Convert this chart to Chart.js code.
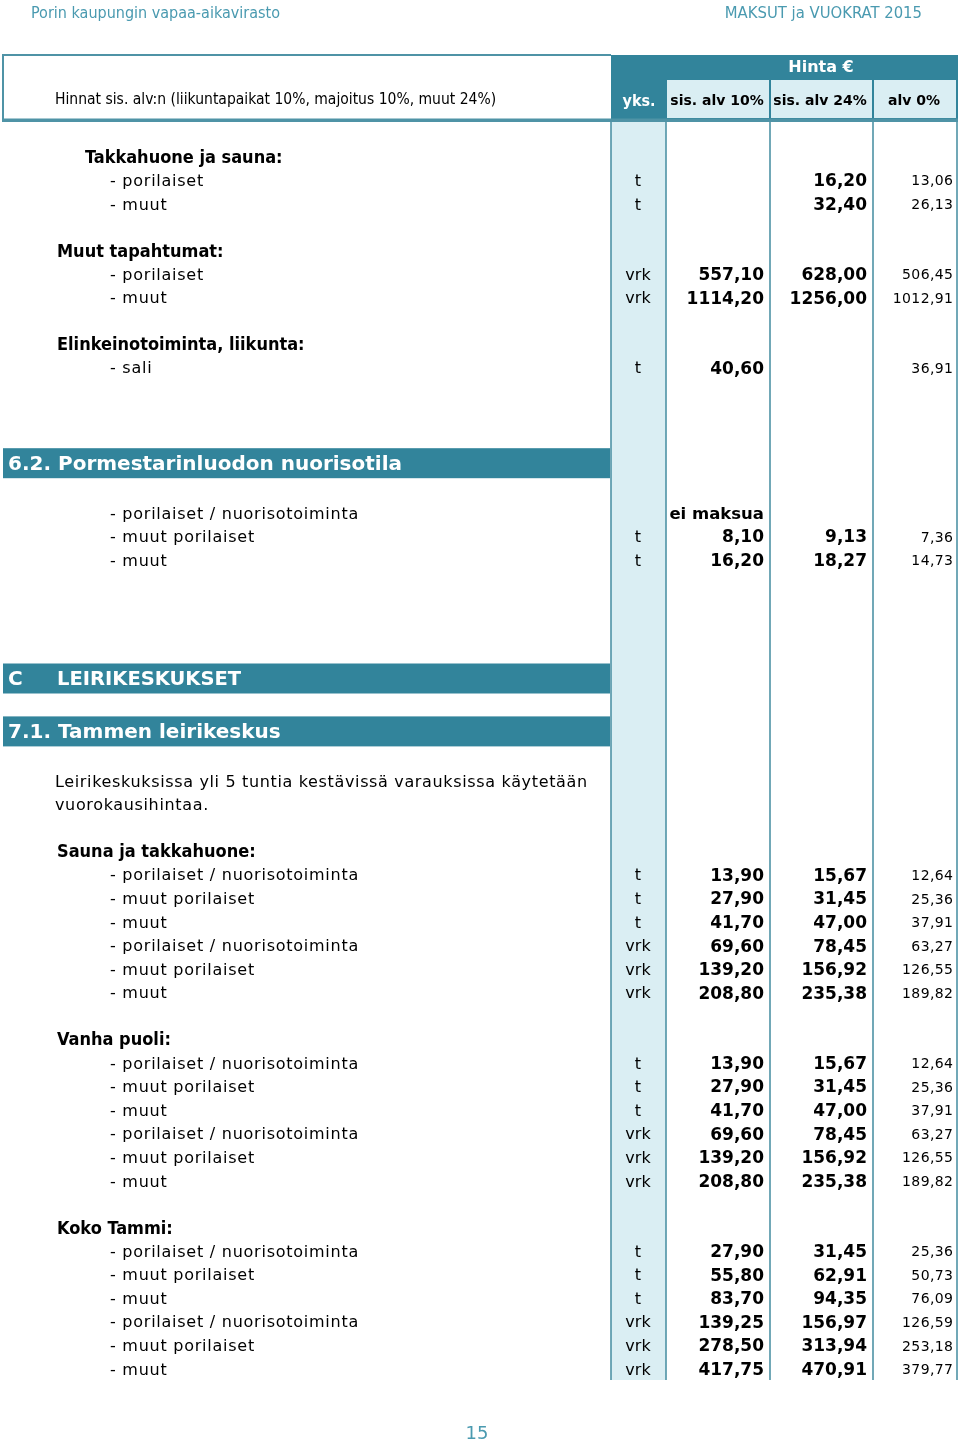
<!DOCTYPE html>
<html>
<head>
<meta charset="utf-8">
<title>Maksut ja vuokrat 2015</title>
<script src="https://cdn.jsdelivr.net/npm/chart.js@4.4.1/dist/chart.umd.min.js"></script>
<style>
  html, body { margin: 0; padding: 0; background: #ffffff; }
  canvas { display: block; }
</style>
</head>
<body>
<canvas id="price-table" width="960" height="1447"></canvas>
<script>
// Page texts
const pageTitleLeft = 'Porin kaupungin vapaa-aikavirasto';
const pageTitleRight = 'MAKSUT ja VUOKRAT 2015';
const pageNumber = '15';
const headerNote = 'Hinnat sis. alv:n (liikuntapaikat 10%, majoitus 10%, muut 24%)';
const priceTitle = 'Hinta €';
const columnTitles = ['yks.', 'sis. alv 10%', 'sis. alv 24%', 'alv 0%'];

// Rows, top to bottom
const rowKinds = [
  'blank', 'subgroup', 'item', 'item', 'blank',
  'group', 'item', 'item', 'blank',
  'group', 'item', 'blank', 'blank', 'blank',
  'band', 'blank', 'item', 'item', 'item',
  'blank', 'blank', 'blank', 'blank',
  'band', 'blank', 'band', 'blank', 'note', 'note',
  'blank', 'group', 'item', 'item', 'item', 'item', 'item', 'item',
  'blank', 'group', 'item', 'item', 'item', 'item', 'item', 'item',
  'blank', 'group', 'item', 'item', 'item', 'item', 'item', 'item'
];

const rowLabels = [
  '', 'Takkahuone ja sauna:', '- porilaiset', '- muut', '',
  'Muut tapahtumat:', '- porilaiset', '- muut', '',
  'Elinkeinotoiminta, liikunta:', '- sali', '', '', '',
  '6.2. Pormestarinluodon nuorisotila', '', '- porilaiset / nuorisotoiminta', '- muut porilaiset', '- muut',
  '', '', '', '',
  'C\tLEIRIKESKUKSET', '', '7.1. Tammen leirikeskus', '',
  'Leirikeskuksissa yli 5 tuntia kestävissä varauksissa käytetään', 'vuorokausihintaa.',
  '', 'Sauna ja takkahuone:', '- porilaiset / nuorisotoiminta', '- muut porilaiset', '- muut',
  '- porilaiset / nuorisotoiminta', '- muut porilaiset', '- muut',
  '', 'Vanha puoli:', '- porilaiset / nuorisotoiminta', '- muut porilaiset', '- muut',
  '- porilaiset / nuorisotoiminta', '- muut porilaiset', '- muut',
  '', 'Koko Tammi:', '- porilaiset / nuorisotoiminta', '- muut porilaiset', '- muut',
  '- porilaiset / nuorisotoiminta', '- muut porilaiset', '- muut'
];

const units = [
  null, null, 't', 't', null,
  null, 'vrk', 'vrk', null,
  null, 't', null, null, null,
  null, null, null, 't', 't',
  null, null, null, null,
  null, null, null, null, null, null,
  null, null, 't', 't', 't', 'vrk', 'vrk', 'vrk',
  null, null, 't', 't', 't', 'vrk', 'vrk', 'vrk',
  null, null, 't', 't', 't', 'vrk', 'vrk', 'vrk'
];

const sis10 = [
  null, null, null, null, null,
  null, 557.10, 1114.20, null,
  null, 40.60, null, null, null,
  null, null, 'ei maksua', 8.10, 16.20,
  null, null, null, null,
  null, null, null, null, null, null,
  null, null, 13.90, 27.90, 41.70, 69.60, 139.20, 208.80,
  null, null, 13.90, 27.90, 41.70, 69.60, 139.20, 208.80,
  null, null, 27.90, 55.80, 83.70, 139.25, 278.50, 417.75
];

const sis24 = [
  null, null, 16.20, 32.40, null,
  null, 628.00, 1256.00, null,
  null, null, null, null, null,
  null, null, null, 9.13, 18.27,
  null, null, null, null,
  null, null, null, null, null, null,
  null, null, 15.67, 31.45, 47.00, 78.45, 156.92, 235.38,
  null, null, 15.67, 31.45, 47.00, 78.45, 156.92, 235.38,
  null, null, 31.45, 62.91, 94.35, 156.97, 313.94, 470.91
];

const alv0 = [
  null, null, 13.06, 26.13, null,
  null, 506.45, 1012.91, null,
  null, 36.91, null, null, null,
  null, null, null, 7.36, 14.73,
  null, null, null, null,
  null, null, null, null, null, null,
  null, null, 12.64, 25.36, 37.91, 63.27, 126.55, 189.82,
  null, null, 12.64, 25.36, 37.91, 63.27, 126.55, 189.82,
  null, null, 25.36, 50.73, 76.09, 126.59, 253.18, 379.77
];

// Colours and layout (page units, mapped through the chart scales)
const TEAL = '#32849b';
const LINE_TEAL = '#4f93a6';
const LIGHT = '#daeef3';
const TITLE_TEAL = '#4a9ab0';
const rowHeights = { blank: 22.9, item: 23.6, group: 23.6, subgroup: 23.6, note: 23.6, band: 30 };
const bodyTop = 122;
const tableEnd = 1380;
const textShift = 1.5;
const colLines = [611, 666, 770, 873, 957];
const colX = { group: 57, subgroup: 85, item: 110, note: 55, unit: 638, sis10: 764, sis24: 867, alv0: 953 };

function formatPrice(v) {
  if (v === null || v === undefined) return '';
  if (typeof v === 'string') return v;
  return v.toFixed(2).replace('.', ',');
}

const priceTablePlugin = {
  id: 'priceTable',
  afterDraw(chart) {
    const { ctx, scales: { x, y } } = chart;
    const px = v => x.getPixelForValue(v);
    const py = v => y.getPixelForValue(v);

    function text(str, xv, yv, font, color, align, spacing) {
      ctx.font = font;
      ctx.fillStyle = color;
      ctx.textAlign = align || 'left';
      ctx.textBaseline = 'middle';
      ctx.letterSpacing = (spacing || 0) + 'px';
      let xp = px(xv);
      // letterSpacing adds trailing space, compensate on right-aligned text
      if (align === 'right' && spacing) xp += spacing;
      ctx.fillText(str, xp, py(yv));
      ctx.letterSpacing = '0px';
    }
    function rect(x0, y0, x1, y1, color) {
      ctx.fillStyle = color;
      ctx.fillRect(px(x0), py(y0), px(x1) - px(x0), py(y1) - py(y0));
    }

    ctx.save();

    // Page header
    text(pageTitleLeft, 31, 14, '16px "DejaVu Sans Condensed"', TITLE_TEAL, 'left');
    text(pageTitleRight, 922, 14, '16.5px "DejaVu Sans Condensed"', TITLE_TEAL, 'right');

    // Table header
    rect(611, 55, 958, 120, TEAL);
    rect(667, 80, 769, 118, LIGHT);
    rect(771, 80, 872, 118, LIGHT);
    rect(874, 80, 956, 118, LIGHT);
    rect(2, 54, 611, 56, LINE_TEAL);
    rect(2, 54, 4, 120, LINE_TEAL);
    rect(2, 118.5, 958, 122, LINE_TEAL);
    text(headerNote, 55, 100, '15.5px "DejaVu Sans Condensed"', '#000', 'left');
    text(priceTitle, 821, 67.5, 'bold 16px "DejaVu Sans"', '#ffffff', 'center');
    text(columnTitles[0], 639, 101.5, 'bold 16px "DejaVu Sans Condensed"', '#ffffff', 'center');
    text(columnTitles[1], 717, 101.5, 'bold 14px "DejaVu Sans"', '#000', 'center');
    text(columnTitles[2], 820, 101.5, 'bold 14px "DejaVu Sans"', '#000', 'center');
    text(columnTitles[3], 914, 101.5, 'bold 14px "DejaVu Sans"', '#000', 'center');

    // Column backgrounds and lines
    rect(611, bodyTop, 666, tableEnd, LIGHT);
    colLines.forEach(c => rect(c - 0.8, bodyTop, c + 0.8, tableEnd, LINE_TEAL));

    // Rows
    let top = bodyTop;
    rowKinds.forEach((kind, i) => {
      const h = rowHeights[kind];
      const mid = top + h / 2 + textShift;
      const label = rowLabels[i];
      if (kind === 'band') {
        rect(3, top, 610, top + h, TEAL);
        const parts = label.split('\t');
        text(parts[0], 8, mid, 'bold 20px "DejaVu Sans"', '#ffffff', 'left');
        if (parts[1]) text(parts[1], 57, mid, 'bold 19.5px "DejaVu Sans"', '#ffffff', 'left');
      } else if (kind === 'group' || kind === 'subgroup') {
        text(label, colX[kind], mid, 'bold 18px "DejaVu Sans Condensed"', '#000', 'left');
      } else if (kind === 'note') {
        text(label, colX.note, mid, '16px "DejaVu Sans"', '#000', 'left', 0.65);
      } else if (kind === 'item') {
        text(label, colX.item, mid, '16px "DejaVu Sans"', '#000', 'left', 0.75);
        if (units[i]) text(units[i], colX.unit, mid, '16px "DejaVu Sans"', '#000', 'center');
        const s10 = sis10[i];
        text(formatPrice(s10), colX.sis10, mid, typeof s10 === 'string' ? 'bold 16.5px "DejaVu Sans"' : 'bold 17px "DejaVu Sans"', '#000', 'right');
        text(formatPrice(sis24[i]), colX.sis24, mid, 'bold 17px "DejaVu Sans"', '#000', 'right');
        text(formatPrice(alv0[i]), colX.alv0, mid, '14px "DejaVu Sans"', '#000', 'right', 0.4);
      }
      top += h;
    });

    // Page number
    text(pageNumber, 477, 1434, '18px "DejaVu Sans"', TITLE_TEAL, 'center');

    ctx.restore();
  }
};

new Chart(document.getElementById('price-table'), {
  type: 'scatter',
  data: { datasets: [{ data: [] }] },
  options: {
    responsive: false,
    devicePixelRatio: 1,
    animation: false,
    layout: { padding: 0 },
    plugins: { legend: { display: false }, tooltip: { enabled: false } },
    scales: {
      x: { type: 'linear', min: 0, max: 960, display: false },
      y: { type: 'linear', min: 0, max: 1447, reverse: true, display: false }
    }
  },
  plugins: [priceTablePlugin]
});
</script>
</body>
</html>
